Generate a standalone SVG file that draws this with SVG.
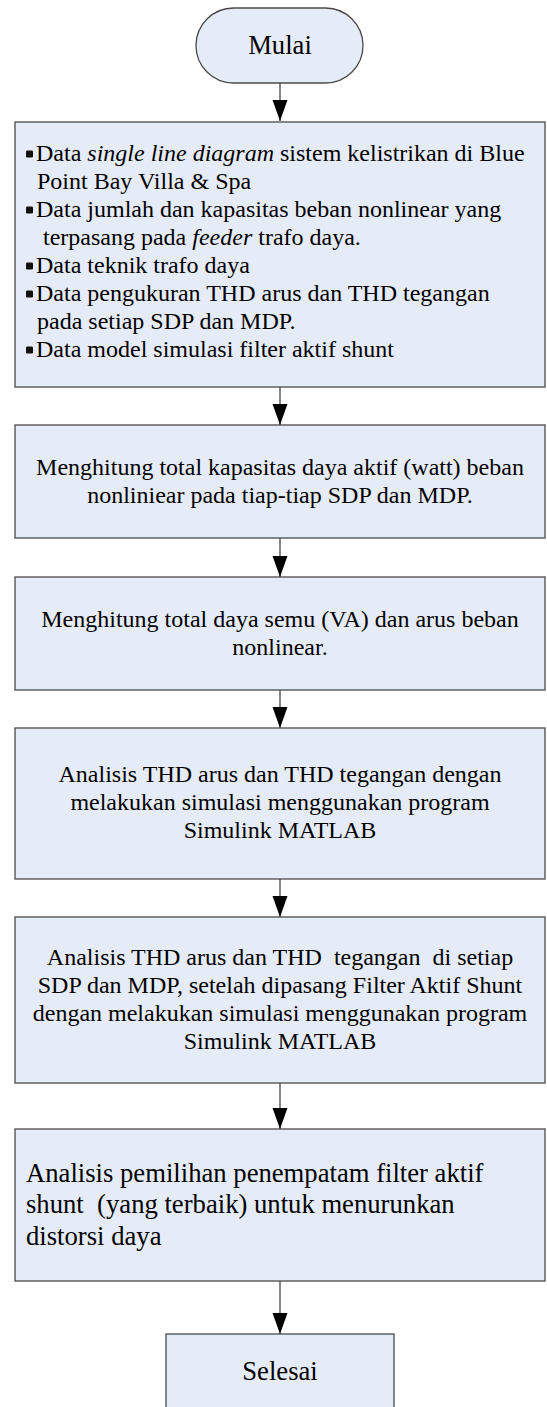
<svg xmlns="http://www.w3.org/2000/svg" width="547" height="1407" viewBox="0 0 547 1407">
<style>
.box{fill:#E6ECF7;stroke:#4a4a4a;stroke-width:1.3}
.t{font-family:"Liberation Serif","Times New Roman",serif;font-size:24px;fill:#000}
.c{text-anchor:middle}
.big{font-size:26.67px}
.it{font-style:italic}
.conn{stroke:#5f5f5f;stroke-width:1.5;fill:none;marker-end:url(#ah)}
.bul{fill:#111}
</style>
<defs>
<marker id="ah" markerUnits="userSpaceOnUse" viewBox="0 -8 22 16" refX="21" refY="0" markerWidth="22" markerHeight="16" orient="auto">
<path d="M0,-7.5 L21,0 L0,7.5 z" fill="#000"/>
</marker>
</defs>
<rect width="547" height="1407" fill="#fff"/>
<g id="connectors">
<line class="conn" x1="280" y1="83" x2="280" y2="121"/>
<line class="conn" x1="280" y1="387" x2="280" y2="425"/>
<line class="conn" x1="280" y1="538" x2="280" y2="577"/>
<line class="conn" x1="280" y1="690" x2="280" y2="728"/>
<line class="conn" x1="280" y1="879" x2="280" y2="917"/>
<line class="conn" x1="280" y1="1083" x2="280" y2="1129"/>
<line class="conn" x1="280" y1="1281" x2="280" y2="1334"/>
</g>
<g id="mulai">
<rect class="box" x="196" y="8" width="167" height="75" rx="37.5" ry="37.5"/>
<text class="t c big" x="280" y="54">Mulai</text>
</g>
<g id="data">
<rect class="box" x="15" y="122" width="530" height="265"/>
<rect class="bul" x="26" y="150.5" width="7" height="7" rx="1.2"/>
<rect class="bul" x="26" y="206.5" width="7" height="7" rx="1.2"/>
<rect class="bul" x="26" y="262.5" width="7" height="7" rx="1.2"/>
<rect class="bul" x="26" y="290.5" width="7" height="7" rx="1.2"/>
<rect class="bul" x="26" y="346.5" width="7" height="7" rx="1.2"/>
<text class="t" x="36" y="161">Data <tspan class="it">single line diagram</tspan> sistem kelistrikan di Blue</text>
<text class="t" x="37" y="189">Point Bay Villa &amp; Spa</text>
<text class="t" x="36" y="217">Data jumlah dan kapasitas beban nonlinear yang</text>
<text class="t" x="43" y="245">terpasang pada <tspan class="it">feeder</tspan> trafo daya.</text>
<text class="t" x="36" y="273">Data teknik trafo daya</text>
<text class="t" x="36" y="301">Data pengukuran THD arus dan THD tegangan</text>
<text class="t" x="37" y="329">pada setiap SDP dan MDP.</text>
<text class="t" x="36" y="357">Data model simulasi filter aktif shunt</text>
</g>
<g id="hitung-daya-aktif">
<rect class="box" x="15" y="425" width="530" height="113"/>
<text class="t c" x="280" y="475">Menghitung total kapasitas daya aktif (watt) beban</text>
<text class="t c" x="280" y="503">nonliniear pada tiap-tiap SDP dan MDP.</text>
</g>
<g id="hitung-daya-semu">
<rect class="box" x="15" y="577" width="530" height="113"/>
<text class="t c" x="280" y="627">Menghitung total daya semu (VA) dan arus beban</text>
<text class="t c" x="280" y="655">nonlinear.</text>
</g>
<g id="analisis-thd">
<rect class="box" x="15" y="728" width="530" height="151"/>
<text class="t c" x="280" y="782">Analisis THD arus dan THD tegangan dengan</text>
<text class="t c" x="280" y="810">melakukan simulasi menggunakan program</text>
<text class="t c" x="280" y="838">Simulink MATLAB</text>
</g>
<g id="analisis-filter">
<rect class="box" x="15" y="917" width="530" height="166"/>
<text class="t c" x="280" y="965" xml:space="preserve">Analisis THD arus dan THD  tegangan  di setiap</text>
<text class="t c" x="280" y="993">SDP dan MDP, setelah dipasang Filter Aktif Shunt</text>
<text class="t c" x="280" y="1021">dengan melakukan simulasi menggunakan program</text>
<text class="t c" x="280" y="1049">Simulink MATLAB</text>
</g>
<g id="analisis-penempatan">
<rect class="box" x="15" y="1129" width="530" height="152"/>
<text class="t big" x="26" y="1182">Analisis pemilihan penempatam filter aktif</text>
<text class="t big" x="26" y="1213" xml:space="preserve">shunt  (yang terbaik) untuk menurunkan</text>
<text class="t big" x="26" y="1245">distorsi daya</text>
</g>
<g id="selesai">
<rect class="box" x="166" y="1334" width="228" height="90"/>
<text class="t c big" x="280" y="1380">Selesai</text>
</g>
</svg>
